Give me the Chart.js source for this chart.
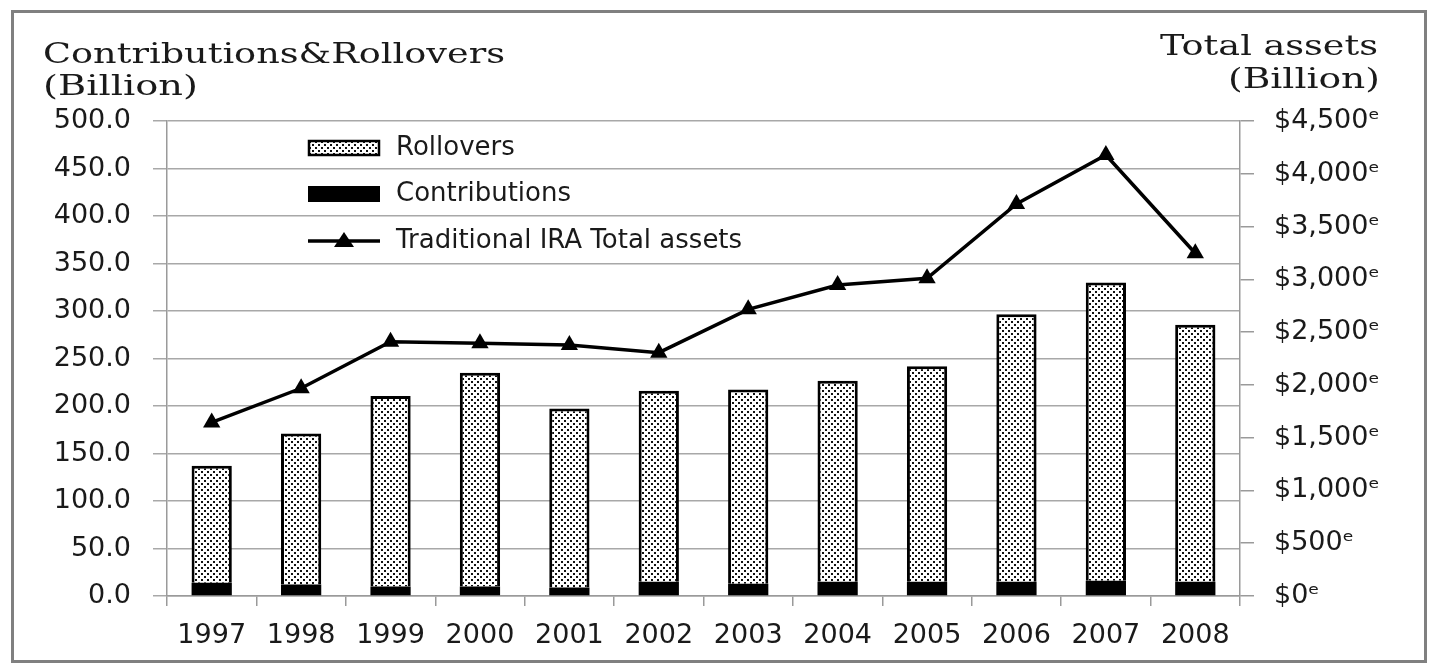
<!DOCTYPE html>
<html lang="en">
<head>
<meta charset="UTF-8">
<title>Traditional IRA Contributions &amp; Rollovers</title>
<script src="https://cdn.jsdelivr.net/npm/chart.js"></script>
<style>
  html, body { margin: 0; padding: 0; background: #fff; }
  #wrap { width: 1430px; height: 669px; }
</style>
</head>
<body>
<div id="wrap"><canvas id="iraChart" width="1430" height="669"></canvas></div>
<script>
// Traditional IRA flows (billion $) and total assets (billion $)
const years = ['1997', '1998', '1999', '2000', '2001', '2002', '2003', '2004', '2005', '2006', '2007', '2008'];
const contributions = [14, 12, 10, 10, 9, 15, 13, 15, 15, 15, 16, 15];
const rollovers = [123, 159, 200.5, 225, 188.5, 201, 204.5, 211.6, 226.8, 281.5, 314, 270.6];
const totalAssets = [1644, 1968, 2409, 2394, 2378, 2305, 2716, 2946, 3010, 3714, 4178, 3247];

const leftMax = 500, leftStep = 50;
const rightMax = 4500, rightStep = 500;

const tickFont = { family: 'DejaVu Sans', size: 27 };
const textColor = '#1a1a1a';
const axisGray = '#9a9a9a';

// dotted fill used for the rollover bars
function makeDots() {
    const c = document.createElement('canvas');
    c.width = 6; c.height = 6;
    const g = c.getContext('2d');
    g.fillStyle = '#fff';
    g.fillRect(0, 0, 6, 6);
    g.fillStyle = '#111';
    g.fillRect(0, 0, 2, 2);
    g.fillRect(3, 3, 2, 2);
    return g.createPattern(c, 'repeat');
}
const dots = makeDots();

// draw text squeezed/stretched to a given width
function drawFit(ctx, text, x, y, width, align) {
    const w = ctx.measureText(text).width;
    const sx = width / w;
    ctx.save();
    const left = align === 'right' ? x - width : x;
    ctx.translate(left, y);
    ctx.scale(sx, 1);
    ctx.textAlign = 'left';
    ctx.fillText(text, 0, 0);
    ctx.restore();
}

const decorations = {
    id: 'decorations',
    beforeDraw(chart) {
        const ctx = chart.ctx;
        ctx.save();
        ctx.fillStyle = '#fff';
        ctx.fillRect(0, 0, chart.width, chart.height);
        // outer frame
        ctx.strokeStyle = '#808080';
        ctx.lineWidth = 3;
        ctx.strokeRect(12.5, 11.5, 1413, 650);
        // axis titles
        ctx.fillStyle = textColor;
        ctx.textBaseline = 'alphabetic';
        ctx.font = '28px "DejaVu Serif"';
        drawFit(ctx, 'Contributions&Rollovers', 43, 63, 462, 'left');
        drawFit(ctx, '(Billion)', 43, 95, 155, 'left');
        drawFit(ctx, 'Total assets', 1378, 55, 218, 'right');
        drawFit(ctx, '(Billion)', 1380, 88, 152, 'right');
        ctx.restore();
    },
    afterDatasetsDraw(chart) {
        const ctx = chart.ctx;
        const x0 = 308, x1 = 380, tx = 396;
        const rows = [148, 194, 241];
        ctx.save();
        // Rollovers swatch
        ctx.fillStyle = dots;
        ctx.fillRect(x0, rows[0] - 8, x1 - x0, 16);
        ctx.strokeStyle = '#000';
        ctx.lineWidth = 2.5;
        ctx.strokeRect(x0 + 1, rows[0] - 7, x1 - x0 - 2, 14);
        // Contributions swatch
        ctx.fillStyle = '#000';
        ctx.fillRect(x0, rows[1] - 8, x1 - x0, 16);
        // line swatch
        ctx.lineWidth = 3.5;
        ctx.beginPath();
        ctx.moveTo(x0, rows[2]);
        ctx.lineTo(x1, rows[2]);
        ctx.stroke();
        const m = (x0 + x1) / 2;
        ctx.beginPath();
        ctx.moveTo(m, rows[2] - 9);
        ctx.lineTo(m + 10, rows[2] + 6);
        ctx.lineTo(m - 10, rows[2] + 6);
        ctx.closePath();
        ctx.fill();
        // labels
        ctx.fillStyle = textColor;
        ctx.font = '26px "DejaVu Sans"';
        ctx.textBaseline = 'middle';
        ctx.fillText('Rollovers', tx, rows[0]);
        ctx.fillText('Contributions', tx, rows[1]);
        ctx.fillText('Traditional IRA Total assets', tx, rows[2]);
        ctx.restore();
    }
};

const ctx = document.getElementById('iraChart').getContext('2d');
new Chart(ctx, {
    data: {
        labels: years,
        datasets: [
            {
                type: 'line',
                label: 'Traditional IRA Total assets',
                data: totalAssets,
                yAxisID: 'y1',
                borderColor: '#000',
                backgroundColor: '#000',
                borderWidth: 3.5,
                pointStyle: 'triangle',
                pointRadius: 10,
                pointBorderWidth: 0,
                tension: 0,
                order: 0
            },
            {
                type: 'bar',
                label: 'Contributions',
                data: contributions,
                yAxisID: 'y',
                stack: 'ira',
                backgroundColor: '#000',
                borderColor: '#000',
                borderWidth: 0,
                barPercentage: 0.45,
                categoryPercentage: 1,
                order: 1
            },
            {
                type: 'bar',
                label: 'Rollovers',
                data: rollovers,
                yAxisID: 'y',
                stack: 'ira',
                backgroundColor: dots,
                borderColor: '#000',
                borderWidth: 3,
                barPercentage: 0.45,
                categoryPercentage: 1,
                order: 1
            }
        ]
    },
    options: {
        responsive: false,
        animation: false,
        layout: { padding: { top: 121, left: 0, right: 0, bottom: 0 } },
        plugins: {
            legend: { display: false },
            tooltip: { enabled: false }
        },
        scales: {
            x: {
                stacked: true,
                offset: true,
                grid: { offset: true, drawOnChartArea: false, color: axisGray, lineWidth: 1.5, tickLength: 10 },
                border: { color: axisGray, width: 1.5 },
                ticks: { font: tickFont, color: textColor, padding: 14, maxRotation: 0, autoSkip: false },
                afterFit(scale) { scale.height = 73; }
            },
            y: {
                stacked: true,
                position: 'left',
                min: 0,
                max: leftMax,
                ticks: {
                    stepSize: leftStep,
                    font: tickFont,
                    color: textColor,
                    padding: 22,
                    callback: v => v.toFixed(1)
                },
                grid: { color: '#a8a8a8', lineWidth: 1.5, tickLength: 14 },
                border: { color: axisGray, width: 1.5 },
                afterFit(scale) { scale.width = 167; }
            },
            y1: {
                position: 'right',
                min: 0,
                max: rightMax,
                ticks: {
                    stepSize: rightStep,
                    font: tickFont,
                    color: textColor,
                    padding: 20,
                    callback: v => '$' + v.toLocaleString('en-US') + 'ᵉ'
                },
                grid: { drawOnChartArea: false, color: axisGray, lineWidth: 1.5, tickLength: 14 },
                border: { color: axisGray, width: 1.5 },
                afterFit(scale) { scale.width = 190; }
            }
        }
    },
    plugins: [decorations]
});
</script>
</body>
</html>
